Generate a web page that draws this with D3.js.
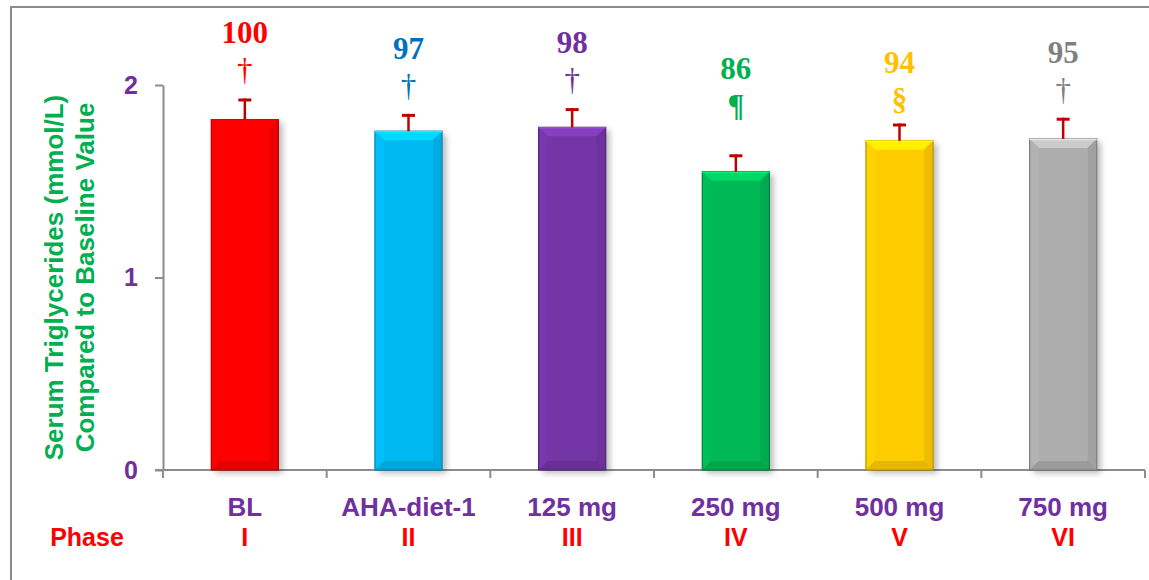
<!DOCTYPE html>
<html>
<head>
<meta charset="utf-8">
<script src="https://cdn.jsdelivr.net/npm/d3@7"></script>
<style>
  body { margin: 0; background: #fff; }
  svg { display: block; }
  .sans { font-family: "Liberation Sans", Arial, sans-serif; font-weight: bold; }
  .serif { font-family: "Liberation Serif", "Times New Roman", serif; font-weight: bold; }
</style>
</head>
<body>
<div id="chart"></div>
<script>
// Data
const categories = ['BL', 'AHA-diet-1', '125 mg', '250 mg', '500 mg', '750 mg'];
const phases = ['I', 'II', 'III', 'IV', 'V', 'VI'];
const meanTG = [1.82, 1.76, 1.78, 1.55, 1.71, 1.72];
const errTG = [0.11, 0.09, 0.10, 0.09, 0.09, 0.11];
const pctOfBaseline = [100, 97, 98, 86, 94, 95];
const signif = ['†', '†', '†', '¶', '§', '†'];
const yTicks = [0, 1, 2];

const barColors = ['#FF0000', '#00B8F2', '#7435A6', '#00B856', '#FFCC00', '#ADADAD'];
const labelColors = ['#FF0000', '#0070C0', '#7030A0', '#00B050', '#FFC000', '#808080'];

const W = 1149, H = 580;
const purple = '#7030A0', green = '#00B050', red = '#FF0000';

const svg = d3.select('#chart').append('svg')
    .attr('width', W)
    .attr('height', H);

const defs = svg.append('defs');
defs.append('filter').attr('id', 'shadow')
    .attr('x', '-20%').attr('y', '-20%').attr('width', '140%').attr('height', '140%')
    .append('feGaussianBlur').attr('stdDeviation', 3);

// outer frame (runs off the right and bottom edges like the original)
svg.append('rect')
    .attr('x', 11).attr('y', 7)
    .attr('width', W + 20).attr('height', H + 20)
    .attr('fill', 'none')
    .attr('stroke', '#8c8c8c')
    .attr('stroke-width', 2);

const x = d3.scaleBand()
    .domain(categories)
    .range([163, 1145])
    .paddingInner(0.59)
    .paddingOuter(0.295);

const y = d3.scaleLinear()
    .domain([0, 2])
    .range([470, 85]);

// y axis
const yAxis = svg.append('g')
    .attr('transform', `translate(${x.range()[0]},0)`)
    .call(d3.axisLeft(y).tickValues(yTicks).tickSize(8).tickSizeOuter(0).tickPadding(17).tickFormat(d3.format('d')));
yAxis.select('.domain').attr('stroke', '#8c8c8c').attr('stroke-width', 2);
yAxis.selectAll('.tick line').attr('stroke', '#8c8c8c').attr('stroke-width', 2);
yAxis.selectAll('.tick text')
    .attr('class', 'sans')
    .attr('fill', purple)
    .style('font-size', '25px');

// x axis line + category boundary ticks
const x0 = x.range()[0], x1 = x.range()[1];
svg.append('line')
    .attr('x1', x0 - 8).attr('x2', x1)
    .attr('y1', y(0)).attr('y2', y(0))
    .attr('stroke', '#8c8c8c').attr('stroke-width', 2);
svg.selectAll('.xtick')
    .data(d3.range(categories.length + 1))
    .join('line')
    .attr('class', 'xtick')
    .attr('x1', i => x0 + i * x.step()).attr('x2', i => x0 + i * x.step())
    .attr('y1', y(0)).attr('y2', y(0) + 8)
    .attr('stroke', '#8c8c8c').attr('stroke-width', 2);

// bars
const bars = svg.selectAll('.bar')
    .data(categories.map((c, i) => ({ c, i, v: meanTG[i], e: errTG[i] })))
    .join('g')
    .attr('class', 'bar');

const bevel = 9;
bars.each(function(d) {
    const g = d3.select(this);
    const bx0 = x(d.c), bx1 = x(d.c) + x.bandwidth();
    const by0 = y(d.v), by1 = y(0);
    const base = d3.color(barColors[d.i]);

    g.append('rect')
        .attr('x', bx0 + 4).attr('y', by0 + 3)
        .attr('width', bx1 - bx0).attr('height', by1 - by0)
        .attr('fill', '#000').attr('opacity', 0.28)
        .attr('filter', 'url(#shadow)');

    g.append('rect')
        .attr('x', bx0).attr('y', by0)
        .attr('width', bx1 - bx0).attr('height', by1 - by0)
        .attr('fill', base);

    // bevel faces
    const poly = (pts, fill) => g.append('polygon')
        .attr('points', pts.map(p => p.join(',')).join(' '))
        .attr('fill', fill);
    poly([[bx0, by0], [bx1, by0], [bx1 - bevel, by0 + bevel], [bx0 + bevel, by0 + bevel]], base.brighter(0.45));
    poly([[bx0, by0], [bx0 + bevel, by0 + bevel], [bx0 + bevel, by1 - bevel], [bx0, by1]], base.brighter(0.1));
    poly([[bx1, by0], [bx1 - bevel, by0 + bevel], [bx1 - bevel, by1 - bevel], [bx1, by1]], base.darker(0.2));
    poly([[bx0, by1], [bx0 + bevel, by1 - bevel], [bx1 - bevel, by1 - bevel], [bx1, by1]], base.darker(0.3));

    g.append('rect')
        .attr('x', bx0).attr('y', by0)
        .attr('width', bx1 - bx0).attr('height', by1 - by0)
        .attr('fill', 'none')
        .attr('stroke', base.darker(0.9))
        .attr('stroke-width', 1.2);
    g.append('line')
        .attr('x1', bx0).attr('x2', bx1)
        .attr('y1', by0 + 0.5).attr('y2', by0 + 0.5)
        .attr('stroke', base.brighter(0.8)).attr('stroke-width', 1.5);

    // error bar
    const cx = bx0 + x.bandwidth() / 2;
    const ey = y(d.v + d.e);
    g.append('line')
        .attr('x1', cx).attr('x2', cx)
        .attr('y1', by0).attr('y2', ey)
        .attr('stroke', '#C00000').attr('stroke-width', 2.5);
    g.append('line')
        .attr('x1', cx - 6.5).attr('x2', cx + 6.5)
        .attr('y1', ey + 1.5).attr('y2', ey + 1.5)
        .attr('stroke', '#C00000').attr('stroke-width', 3);
});

// percent-of-baseline labels and significance marks
const symbolGap = { '†': 55, '¶': 75, '§': 51 };
bars.each(function(d) {
    const g = d3.select(this);
    const cx = x(d.c) + x.bandwidth() / 2;
    const base = y(d.v + d.e) - symbolGap[signif[d.i]];
    g.append('text')
        .attr('class', 'serif')
        .attr('x', cx).attr('y', base)
        .attr('text-anchor', 'middle')
        .attr('fill', labelColors[d.i])
        .style('font-size', '31px')
        .text(pctOfBaseline[d.i]);
    g.append('text')
        .attr('class', 'serif')
        .attr('x', cx).attr('y', base + 37)
        .attr('text-anchor', 'middle')
        .attr('fill', labelColors[d.i])
        .style('font-size', '31px')
        .style('font-weight', signif[d.i] === '†' ? 'normal' : 'bold')
        .text(signif[d.i]);
});

// category labels
svg.selectAll('.cat')
    .data(categories)
    .join('text')
    .attr('class', 'sans cat')
    .attr('x', d => x(d) + x.bandwidth() / 2)
    .attr('y', 516)
    .attr('text-anchor', 'middle')
    .attr('fill', purple)
    .style('font-size', '26px')
    .text(d => d);

// phase row
svg.append('text')
    .attr('class', 'sans')
    .attr('x', 87).attr('y', 546)
    .attr('text-anchor', 'middle')
    .attr('fill', red)
    .style('font-size', '25px')
    .text('Phase');
svg.selectAll('.phase')
    .data(phases)
    .join('text')
    .attr('class', 'sans phase')
    .attr('x', (d, i) => x(categories[i]) + x.bandwidth() / 2)
    .attr('y', 546)
    .attr('text-anchor', 'middle')
    .attr('fill', red)
    .style('font-size', '25px')
    .text(d => d);

// y axis title
const midY = (y(0) + y(2)) / 2;
const yTitle = svg.append('text')
    .attr('class', 'sans')
    .attr('transform', `translate(54,${midY}) rotate(-90)`)
    .attr('text-anchor', 'middle')
    .attr('fill', green)
    .style('font-size', '26px');
yTitle.append('tspan').attr('x', 0).attr('dy', '0.35em').text('Serum Triglycerides (mmol/L)');
yTitle.append('tspan').attr('x', 0).attr('dy', '1.2em').text('Compared to Baseline Value');
</script>
</body>
</html>
